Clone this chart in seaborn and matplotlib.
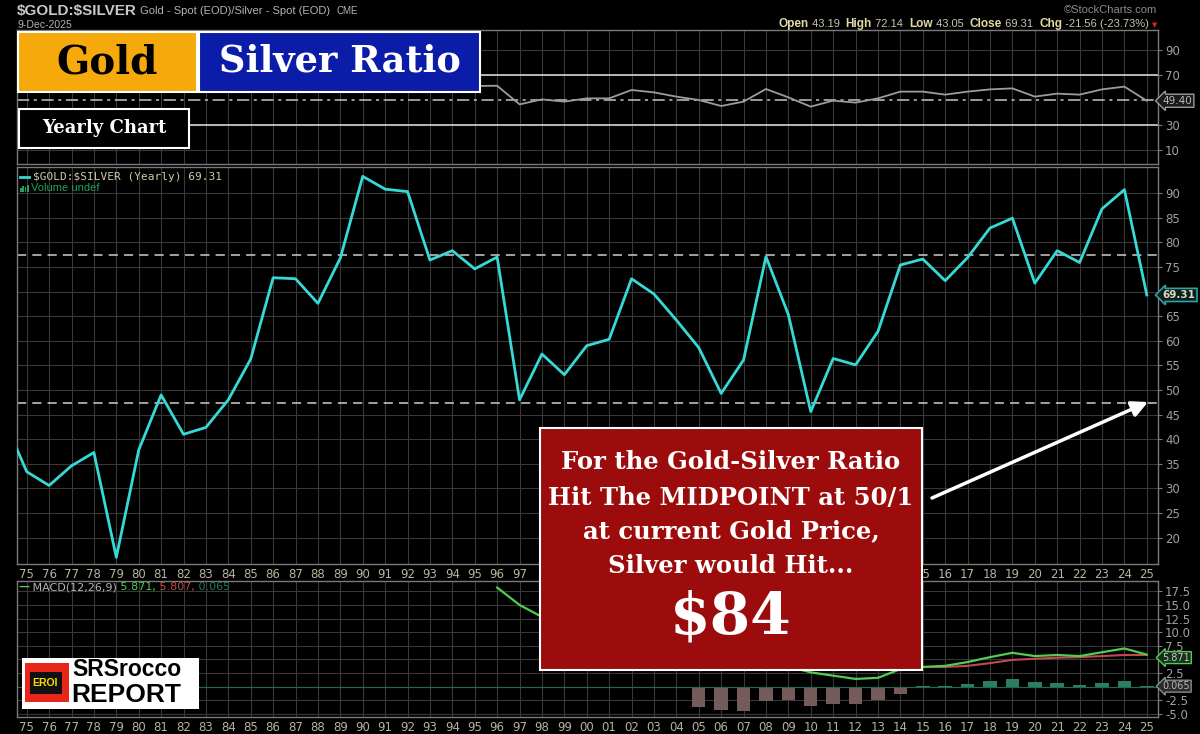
import matplotlib
matplotlib.use("Agg")
import numpy as np
import pandas as pd
import seaborn as sns
import matplotlib.pyplot as plt
from matplotlib.patches import Rectangle, FancyArrowPatch
import matplotlib.transforms as mtransforms

# gold / silver ratio, yearly closes (1974 is only the clipped piece at the left edge)
ratio_years = list(range(1974, 2026))
ratio = [43.9, 33.4, 30.6, 34.6, 37.3, 16.0, 37.8, 49.0, 41.0, 42.4,
         48.0, 56.3, 72.8, 72.6, 67.6, 76.8, 93.4, 90.8, 90.3, 76.4,
         78.3, 74.6, 77.0, 48.0, 57.3, 53.1, 59.0, 60.3, 72.6, 69.5,
         64.2, 58.6, 49.3, 56.1, 77.1, 65.3, 45.6, 56.4, 55.1, 61.9,
         75.4, 76.6, 72.2, 76.9, 82.9, 84.9, 71.7, 78.3, 75.9, 86.8,
         90.7, 69.31]
band_levels = [77.4, 47.4]

# RSI panel (everything before 1996 sits behind the title boxes)
rsi_years = list(range(1975, 2026))
rsi = [64.0, 61.0, 62.0, 63.0, 58.0, 62.0, 66.0, 63.0, 64.0, 66.0,
       69.0, 73.0, 72.0, 69.0, 72.0, 76.0, 74.0, 73.0, 66.0, 66.0,
       61.2, 61.4, 46.5, 50.5, 48.7, 51.3, 51.3, 58.0, 56.1, 52.7,
       50.0, 45.2, 48.7, 58.8, 52.1, 44.7, 49.5, 47.9, 51.3, 56.7,
       56.7, 54.3, 56.7, 58.5, 59.3, 52.7, 55.1, 54.3, 58.5, 60.7,
       49.40]

# MACD(12,26,9)
macd_years = list(range(1996, 2026))
macd = [18.2, 15.0, 12.8, 11.0, 9.6, 8.6, 8.8, 8.5, 7.7, 6.3,
        4.4, 3.2, 4.0, 3.7, 2.6, 2.0, 1.4, 1.6, 3.2, 3.6,
        3.8, 4.5, 5.4, 6.2, 5.6, 5.8, 5.6, 6.3, 7.0, 5.871]
signal_years = list(range(2005, 2026))
signal = [10.1, 8.8, 7.7, 6.7, 6.1, 6.0, 5.3, 4.7, 4.1, 3.9, 3.6,
          3.6, 3.8, 4.3, 4.9, 5.1, 5.3, 5.4, 5.6, 5.8, 5.807]
hist = [-3.8, -4.4, -4.5, -2.7, -2.4, -3.5, -3.3, -3.3, -2.4, -1.3, 0.05,
        0.15, 0.4, 1.0, 1.4, 0.8, 0.6, 0.2, 0.6, 1.0, 0.065]

tick_years = list(range(1975, 2026))
tick_labels = ["%02d" % (y % 100) for y in tick_years]
# years whose labels sit under the red call-out box in the price panel
hidden_label_years = list(range(1998, 2015))

W, H = 1200, 734
BG = "black"
GRID = "#383838"
SPINE = "#7a7a7a"
XLAB = "#bab39c"
YLAB = "#a0a0a0"
CYAN = "#36d9d6"

fig = plt.figure(figsize=(W / 100, H / 100), dpi=100, facecolor=BG)


def px_rect(left, top, right, bottom):
    return [left / W, 1 - bottom / H, (right - left) / W, (bottom - top) / H]


ax_rsi = fig.add_axes(px_rect(17.3, 30, 1158, 164))
ax_main = fig.add_axes(px_rect(17.3, 167, 1158, 564))
ax_macd = fig.add_axes(px_rect(17.3, 581, 1158, 717))

for ax in (ax_rsi, ax_main, ax_macd):
    ax.set_facecolor(BG)
    for s in ax.spines.values():
        s.set_color(SPINE)
        s.set_linewidth(1)

# ---- main ratio panel
sns.lineplot(x=ratio_years, y=ratio, ax=ax_main, color=CYAN, linewidth=2.0, zorder=3)
for lvl in band_levels:
    ax_main.axhline(lvl, color="#cfcfcf", lw=1.1, ls=(0, (6, 4)), zorder=2)
ax_main.set_ylim(14.65, 95.3)
main_ticks = list(range(20, 95, 5))
ax_main.set_yticks(main_ticks)
ax_main.set_yticklabels(["" if v == 70 else str(v) for v in main_ticks])

# ---- RSI panel
sns.lineplot(x=rsi_years, y=rsi, ax=ax_rsi, color="#9c9c9c", linewidth=1.3, zorder=3)
ax_rsi.axhline(70, color="#c4c4c4", lw=1.3, zorder=2)
ax_rsi.axhline(30, color="#c4c4c4", lw=1.3, zorder=2)
ax_rsi.axhline(50, color="#c4c4c4", lw=1.1, ls=(0, (8, 3, 2, 3)), zorder=2)
ax_rsi.set_ylim(-1.2, 106)
ax_rsi.set_yticks([10, 30, 70, 90])

# ---- MACD panel
hist_df = pd.DataFrame({"year": signal_years, "hist": hist})
hist_df["side"] = np.where(hist_df["hist"] < 0, "neg", "pos")
sns.barplot(data=hist_df, x="year", y="hist", hue="side", native_scale=True,
            palette={"neg": "#7b5656", "pos": "#1e8c66"}, width=0.6,
            dodge=False, errorbar=None, legend=False, ax=ax_macd, zorder=2)
ax_macd.axhline(0, color="#1e6a50", lw=0.8, zorder=2)
sns.lineplot(x=signal_years, y=signal, ax=ax_macd, color="#c24a4a", linewidth=1.5, zorder=3)
sns.lineplot(x=macd_years, y=macd, ax=ax_macd, color="#52cc52", linewidth=1.6, zorder=4)
ax_macd.set_ylim(-5.6, 19.4)
macd_ticks = [-5, -2.5, 0, 2.5, 5, 7.5, 10, 12.5, 15, 17.5]
ax_macd.set_yticks(macd_ticks)
ax_macd.set_yticklabels(["" if v in (0, 5) else "%.1f" % v for v in macd_ticks])

for ax in (ax_rsi, ax_main, ax_macd):
    ax.set_xlim(1974.58, 2025.5)
    ax.set_xticks(tick_years)
    ax.set_xticklabels(tick_labels)
    ax.set_xlabel("")
    ax.set_ylabel("")
    ax.grid(True, color=GRID, lw=0.8, zorder=0)
    ax.set_axisbelow(True)
    ax.yaxis.tick_right()
    ax.tick_params(axis="y", colors=SPINE, labelcolor=YLAB, labelsize=8.5,
                   length=3, width=0.8, pad=2)
    ax.tick_params(axis="x", length=0, labelcolor=XLAB, labelsize=8.5, pad=3)
ax_rsi.tick_params(axis="x", labelbottom=False)
ax_main.set_xticklabels(["" if y in hidden_label_years else l
                         for y, l in zip(tick_years, tick_labels)])

# right-edge value tags
tag = dict(fontsize=7.5, va="center", ha="left", clip_on=False, zorder=6)
tr_main = mtransforms.blended_transform_factory(ax_main.transAxes, ax_main.transData)
ax_main.text(1.004, ratio[-1], "69.31", transform=tr_main, color="#e0d8b8", fontweight="bold",
             bbox=dict(boxstyle="larrow,pad=0.15", fc="#0b1f1f", ec="#2fa3a0", lw=1.2), **tag)
tr_rsi = mtransforms.blended_transform_factory(ax_rsi.transAxes, ax_rsi.transData)
ax_rsi.text(1.004, rsi[-1], "49.40", transform=tr_rsi, color="#b8b8b8",
            bbox=dict(boxstyle="larrow,pad=0.15", fc="#1a1a1a", ec="#9a9a9a", lw=1.0), **tag)
tr_macd = mtransforms.blended_transform_factory(ax_macd.transAxes, ax_macd.transData)
small_tag = dict(tag, fontsize=7)
ax_macd.text(1.004, macd[-1] - 0.55, "5.871", transform=tr_macd, color="#c8c8c8",
             bbox=dict(boxstyle="larrow,pad=0.1", fc="#16301a", ec="#52cc52", lw=1.0), **small_tag)
ax_macd.text(1.004, hist[-1], "0.065", transform=tr_macd, color="#b8b8b8",
             bbox=dict(boxstyle="larrow,pad=0.1", fc="#2a2a2a", ec="#8a8a8a", lw=1.0), **small_tag)

# ---- overlay in pixel coordinates for titles, boxes, logo
ov = fig.add_axes([0, 0, 1, 1])
ov.set_xlim(0, W)
ov.set_ylim(H, 0)
ov.axis("off")
ov.patch.set_alpha(0)
ov.set_zorder(10)
renderer = fig.canvas.get_renderer()


def text_run(x, y, parts, align="left"):
    widths = []
    for s, kw in parts:
        t = ov.text(0, y, s, va="center", ha="left", **kw)
        widths.append(t.get_window_extent(renderer=renderer).width)
        t.remove()
    if align == "right":
        x = x - sum(widths)
    for (s, kw), w in zip(parts, widths):
        ov.text(x, y, s, va="center", ha="left", **kw)
        x += w


SANS = ["Liberation Sans"]
text_run(17, 11, [(r"\$GOLD:\$SILVER", dict(fontsize=11, fontweight="bold", color="#c8c8c8", family=SANS)),
                  (" Gold - Spot (EOD)/Silver - Spot (EOD)  ", dict(fontsize=8, color="#b4b4b4", family=SANS)),
                  ("CME", dict(fontsize=7, color="#b4b4b4", family=SANS))])
ov.text(17, 25, "9-Dec-2025", fontsize=7.5, color="#b4b4b4", va="center", family=SANS)
ov.text(1157, 10, "\u00a9StockCharts.com", fontsize=8, color="#8c8c8c", va="center", ha="right",
        family=SANS)
lab = dict(fontsize=8.5, fontweight="bold", color="#e3dba4", family=SANS)
val = dict(fontsize=8, color="#c8c4b0", family=SANS)
text_run(1149, 24, [("Open", lab), (" 43.19  ", val), ("High", lab), (" 72.14  ", val),
                    ("Low", lab), (" 43.05  ", val), ("Close", lab), (" 69.31  ", val),
                    ("Chg", lab), (" -21.56 (-23.73%)", val)], align="right")
ov.text(1155, 25, "\u25bc", fontsize=5, color="#e02020", va="center", ha="center")

SLAB = ["DejaVu Serif"]
ov.add_patch(Rectangle((18, 32), 179, 60, fc="#f5a90a", ec="white", lw=1.5))
ov.text(107.5, 62, "Gold", fontsize=28, fontweight="bold", family=SLAB, color="black",
        ha="center", va="center")
ov.add_patch(Rectangle((199, 32), 281, 60, fc="#0b1ca9", ec="white", lw=1.5))
ov.text(339.5, 62, "Silver Ratio", fontsize=26.5, fontweight="bold", family=SLAB, color="white",
        ha="center", va="center")
ov.add_patch(Rectangle((19, 109), 170, 39, fc="black", ec="white", lw=1.5))
ov.text(104, 128, "Yearly Chart", fontsize=13, fontweight="bold", family=SLAB, color="white",
        ha="center", va="center")

# legends inside panels
ov.plot([20, 29], [177, 177], color=CYAN, lw=2)
ov.text(33, 177, r"\$GOLD:\$SILVER (Yearly) 69.31", fontsize=8, color="#d2caa8", va="center",
        family=["DejaVu Sans Mono"])
for i, hh in enumerate([4, 6, 5, 7]):
    ov.add_patch(Rectangle((20 + i * 2.4, 192 - hh), 1.6, hh, fc="#20a060", ec="none"))
ov.text(31, 188, "Volume undef", fontsize=8, color="#20a060", va="center", family=SANS)

text_run(18, 587, [("\u2014", dict(fontsize=8, color="#52cc52", fontweight="bold")),
                   (" MACD(12,26,9)", dict(fontsize=8, color="#b4b4b4")),
                   (" 5.871,", dict(fontsize=8, color="#52cc52")),
                   (" 5.807,", dict(fontsize=8, color="#c24a4a")),
                   (" 0.065", dict(fontsize=8, color="#1e7a5a"))])

# red call-out box and arrow
ov.add_patch(Rectangle((540, 428), 382, 242, fc="#9c0c0c", ec="white", lw=1.5))
for yy, line in zip([462, 498, 531, 566], ["For the Gold-Silver Ratio", "Hit The MIDPOINT at 50/1",
                                            "at current Gold Price,", "Silver would Hit..."]):
    ov.text(731, yy, line, fontsize=17.5, fontweight="bold", family=SLAB, color="white",
            ha="center", va="center")
ov.text(731, 618, r"\$84", fontsize=42, fontweight="bold", family=SLAB, color="white",
        ha="center", va="center")
ov.add_patch(FancyArrowPatch((932, 498), (1148, 402), arrowstyle="-|>", mutation_scale=24,
                             lw=2.5, color="white", shrinkA=0, shrinkB=0))

# logo
ov.add_patch(Rectangle((22, 658), 177, 51, fc="white", ec="none"))
ov.add_patch(Rectangle((25, 663), 44, 39, fc="#e8261a", ec="none"))
ov.add_patch(Rectangle((30, 672), 32, 22, fc="#111111", ec="none"))
ov.text(45, 683, "EROI", fontsize=7.5, fontweight="bold", color="#f5e000", ha="center", va="center",
        family=SANS)
ov.text(72, 670, "SRSrocco", fontsize=16.5, fontweight="bold", color="black", va="center",
        family=SANS)
ov.text(71, 695, "REPORT", fontsize=19, fontweight="bold", color="black", va="center",
        family=SANS)

fig.savefig("out.png", dpi=100, facecolor=BG)
